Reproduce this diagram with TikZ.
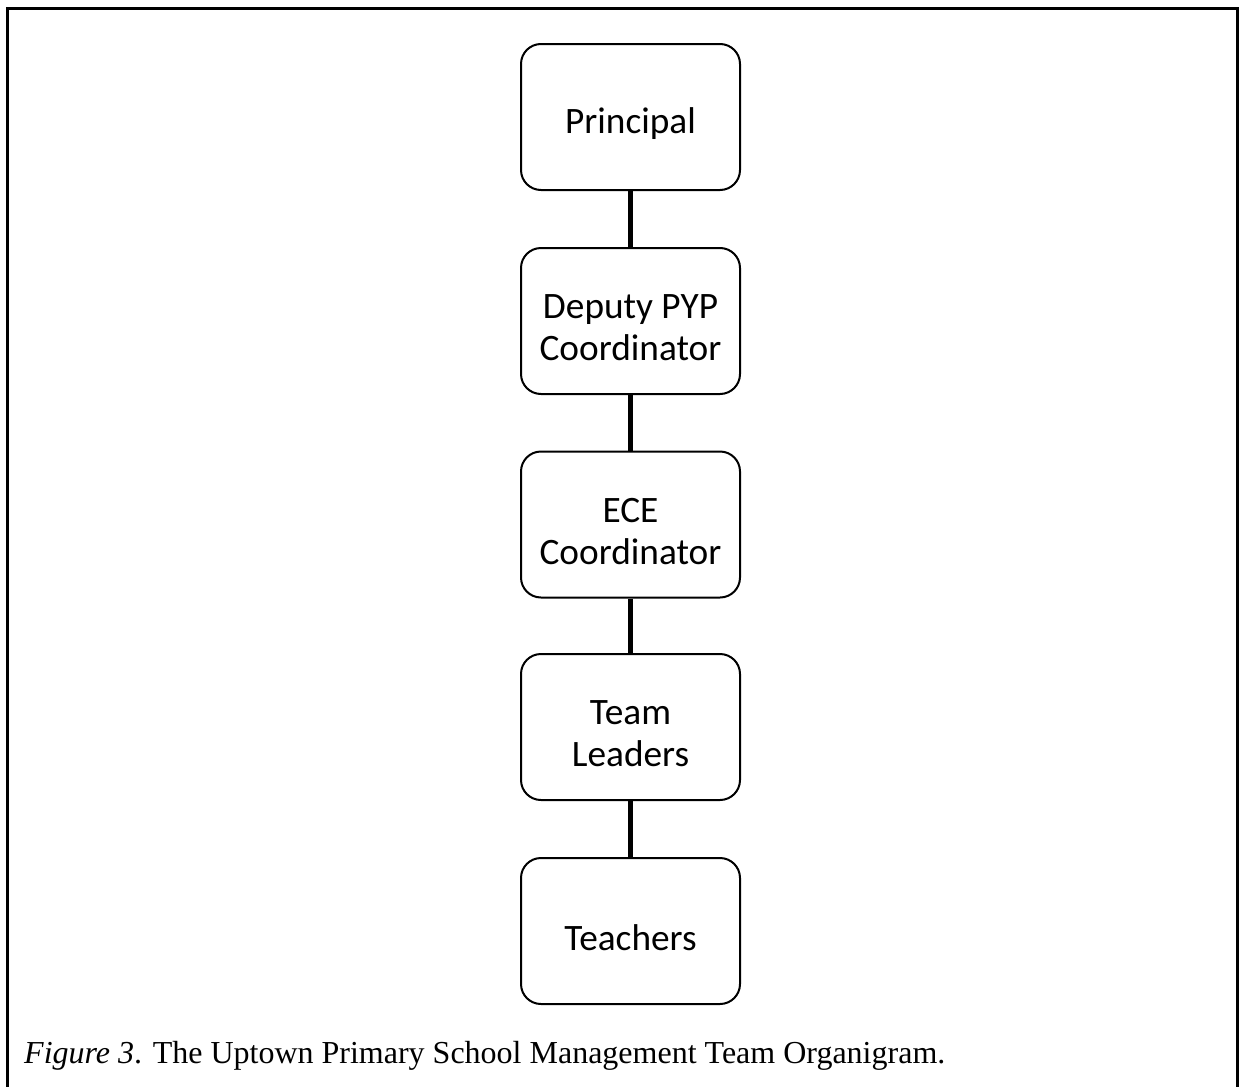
\documentclass[tikz,border=0pt]{standalone}
\usepackage{fontspec}
\setmainfont{Liberation Serif}
\newfontfamily\boxfont{Carlito}
\begin{document}
\begin{tikzpicture}[x=1pt,y=-1pt,
  orgbox/.style={draw, line width=2pt, rounded corners=20pt, minimum width=219pt, minimum height=146pt, inner sep=0pt},
  boxtext/.style={yshift=-7pt, align=center, inner sep=0pt, font=\boxfont\fontsize{37.3}{42}\selectfont},
  link/.style={line width=4.5pt}]
\useasboundingbox (0,0) rectangle (1240,1087);
\fill[white] (0,0) rectangle (1240,1087);
\draw[line width=3pt] (7.5,1090) -- (7.5,8.5) -- (1237,8.5) -- (1237,1090);
\node[orgbox, label={[boxtext]center:Principal}] (p) at (630.5,117) {};
\node[orgbox, label={[boxtext]center:Deputy PYP\\Coordinator}] (d) at (630.5,321) {};
\node[orgbox, label={[boxtext]center:ECE\\Coordinator}] (e) at (630.5,524.5) {};
\node[orgbox, label={[boxtext]center:Team\\Leaders}] (t) at (630.5,727) {};
\node[orgbox, label={[boxtext]center:Teachers}] (tc) at (630.5,931) {};
\draw[link] (p) -- (d);
\draw[link] (d) -- (e);
\draw[link] (e) -- (t);
\draw[link] (t) -- (tc);
\node[anchor=base west, inner sep=0pt, font=\fontsize{32}{36}\selectfont] (cap) at (24,1063) {\textit{Figure 3}. The Uptown Primary School Management Team Organigram.};
\end{tikzpicture}
\end{document}
